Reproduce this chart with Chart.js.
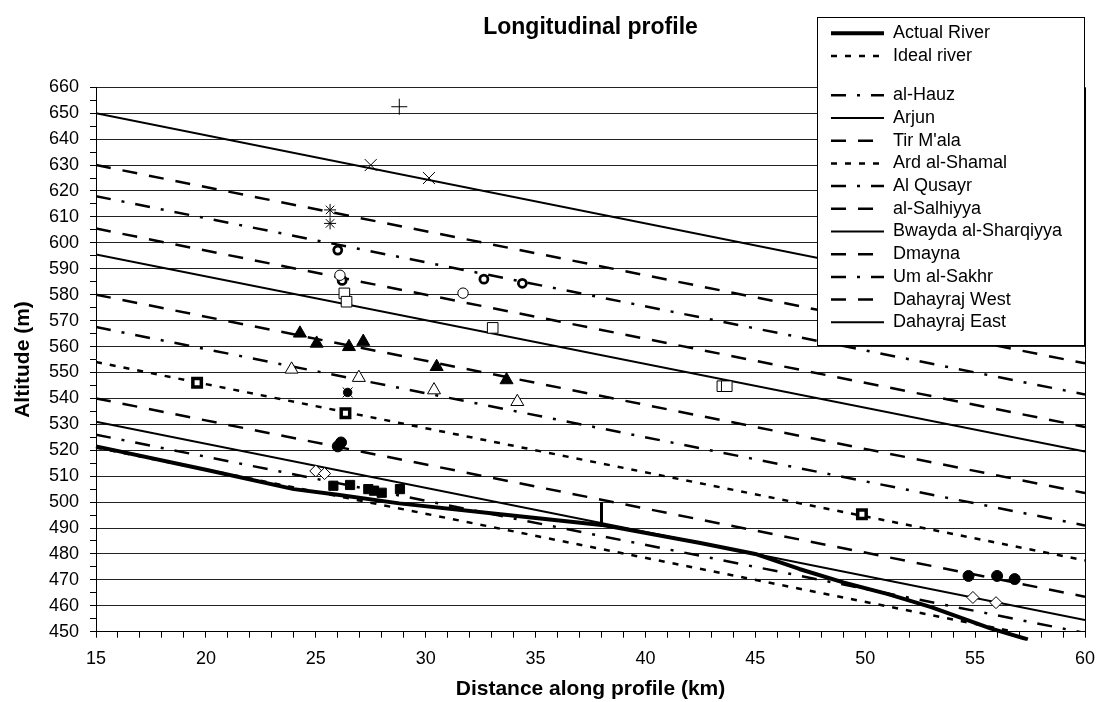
<!DOCTYPE html>
<html>
<head>
<meta charset="utf-8">
<script src="https://cdn.jsdelivr.net/npm/chart.js@4.4.1/dist/chart.umd.min.js"></script>
<style>
html,body{margin:0;padding:0;background:#fff;}
#wrap{width:1097px;height:702px;position:relative;}
</style>
</head>
<body>
<div id="wrap"><canvas id="c"></canvas></div>
<script>
// ---------------- DATA ----------------
const chartTitle = 'Longitudinal profile';
const xAxisTitle = 'Distance along profile (km)';
const yAxisTitle = 'Altitude (m)';
const xLimits = [15, 60];
const yLimits = [450, 660];

const actualRiverKm  = [15, 20, 24, 26, 28.8, 33.4, 38, 42.5, 45, 47, 49, 51, 53, 55.7, 57.4];
const actualRiverAlt = [521.5, 512.5, 505, 502.8, 499.5, 495.3, 491.2, 484.2, 480, 474.2, 469, 464.6, 459.5, 451.3, 447];
const idealRiverKm  = [15, 60];
const idealRiverAlt = [521, 444.5];

const villageNames   = ['al-Hauz', 'Arjun', "Tir M'ala", 'Ard al-Shamal', 'Al Qusayr', 'al-Salhiyya',
                        'Bwayda al-Sharqiyya', 'Dmayna', 'Um al-Sakhr', 'Dahayraj West', 'Dahayraj East'];
const villageLineKm  = [15, 60];
const villageAltAt15 = [618, 650, 630, 554, 567.5, 605.5, 595.5, 580, 526, 540, 531];
const villageAltAt60 = [541.5, 573.5, 553.5, 477.5, 491, 529, 519.5, 503.5, 449.5, 463.5, 454.5];
const villageLineType = ['dashdot', 'solid', 'dash', 'dot', 'dashdot', 'dash', 'solid', 'dash', 'dashdot', 'dash', 'solid'];

// observed points  [km, altitude]
const ptsPlus          = [[28.8, 652.5]];
const ptsCross         = [[27.5, 630], [30.15, 625]];
const ptsStar          = [[25.65, 612.7], [25.65, 607.5]];
const ptsOpenCircle    = [[26.1, 587.5], [31.7, 580.6]];
const ptsRing          = [[26.0, 597.2], [26.2, 585.5], [32.65, 586], [34.4, 584.4]];
const ptsOpenSquare    = [[26.3, 580.5], [26.4, 577.3], [33.05, 567.2], [43.5, 544.7], [43.7, 544.7]];
const ptsFilledTri     = [[24.28, 565.1], [25.04, 561.2], [26.51, 559.9], [27.16, 561.9], [30.5, 552.2], [33.68, 547.1]];
const ptsOpenTri       = [[23.9, 551.2], [26.96, 548], [30.38, 543.2], [34.17, 538.7]];
const ptsDotCross      = [[26.45, 542.3]];
const ptsDotSquare     = [[19.6, 546], [26.35, 534.3], [49.85, 495.3]];
const ptsFilledCircle  = [[26.0, 521.5], [26.15, 523], [54.7, 471.5], [56.0, 471.5], [56.8, 470.3]];
const ptsOpenDiamond   = [[25.0, 512], [25.4, 511], [54.9, 463.2], [55.95, 461.2]];
const ptsFilledSquare  = [[25.8, 506.3], [26.56, 506.6], [27.39, 505], [27.65, 504.4], [28.0, 503.6], [28.83, 505]];
const gaugeBar         = [[38, 491.5], [38, 500]];

// ---------------- STYLE ----------------
const FONT = "'Liberation Sans', Arial, Helvetica, sans-serif";
const dashPatterns = { solid: [], dash: [15, 12], dashdot: [15, 11, 3, 11], dot: [6, 8] };
const LEGEND_BOX = { left: 817, top: 17, right: 1084, bottom: 345 };

const toXY = (xs, ys) => xs.map((x, i) => ({ x: x, y: ys[i] }));
const ptsXY = (pts) => pts.map(p => ({ x: p[0], y: p[1] }));

const datasets = [];

function markerSet(label, pts, style, radius, fill, borderWidth) {
  datasets.push({
    label: label, data: ptsXY(pts), showLine: false, order: 0,
    pointStyle: style, pointRadius: radius, pointHoverRadius: radius,
    pointBackgroundColor: fill, pointBorderColor: '#000', pointBorderWidth: borderWidth
  });
}
markerSet('plus points', ptsPlus, 'cross', 8, '#000', 1);
markerSet('cross points', ptsCross, 'crossRot', 8.5, '#000', 1);
markerSet('star points', ptsStar, 'star', 6, '#000', 1);
markerSet('open circle points', ptsOpenCircle, 'circle', 5.2, '#fff', 1);
markerSet('ring points', ptsRing, 'circle', 4, '#fff', 2.8);
markerSet('open square points', ptsOpenSquare, 'rect', 7.5, '#fff', 1);
markerSet('filled triangle points', ptsFilledTri, 'triangle', 7.5, '#000', 1);
markerSet('open triangle points', ptsOpenTri, 'triangle', 7.5, '#fff', 1);
markerSet('dot cross points', ptsDotCross, 'crossRot', 7, '#000', 1);
markerSet('dot points', ptsDotCross, 'circle', 4.2, '#000', 1);
markerSet('dotted square points', ptsDotSquare, 'rect', 6, '#fff', 3.5);
markerSet('filled circle points', ptsFilledCircle, 'circle', 5.5, '#000', 1);
markerSet('open diamond points', ptsOpenDiamond, 'rectRot', 6, '#fff', 1);
markerSet('filled square points', ptsFilledSquare, 'rect', 6.5, '#000', 1);

datasets.push({
  label: 'gauge', data: ptsXY(gaugeBar), showLine: true, order: 1,
  borderColor: '#000', borderWidth: 3, pointRadius: 0, borderCapStyle: 'butt'
});

datasets.push({
  label: 'Actual River', data: toXY(actualRiverKm, actualRiverAlt), showLine: true, order: 1,
  borderColor: '#000', borderWidth: 4, pointRadius: 0, inLegend: true,
  borderJoinStyle: 'round', clip: { left: 2, top: 2, right: 2, bottom: 9 }
});
datasets.push({
  label: 'Ideal river', data: toXY(idealRiverKm, idealRiverAlt), showLine: true, order: 1,
  borderColor: '#000', borderWidth: 2.5, borderDash: dashPatterns.dot, pointRadius: 0,
  inLegend: true, legendGapAfter: true
});
villageNames.forEach((name, i) => {
  datasets.push({
    label: name,
    data: toXY(villageLineKm, [villageAltAt15[i], villageAltAt60[i]]),
    showLine: true, order: 1, borderColor: '#000',
    borderWidth: villageLineType[i] === 'solid' ? 2 : 2.5,
    borderDash: dashPatterns[villageLineType[i]], pointRadius: 0, inLegend: true
  });
});

// ---------------- LEGEND PLACEMENT ----------------
const legendPlacer = {
  id: 'legendPlacer',
  afterInit(chart) {
    const lg = chart.legend;
    if (!lg) return;
    lg._layers = () => [{
      z: 10,
      draw: (area) => {
        const ctx = chart.ctx, b = LEGEND_BOX;
        ctx.save();
        ctx.fillStyle = '#fff';
        ctx.fillRect(b.left, b.top, b.right - b.left, b.bottom - b.top);
        ctx.strokeStyle = '#000';
        ctx.lineWidth = 1;
        ctx.setLineDash([]);
        ctx.strokeRect(b.left + 0.5, b.top + 0.5, b.right - b.left, b.bottom - b.top);
        ctx.restore();
        lg.draw(area);
      }
    }];
  },
  afterLayout(chart) {
    const lg = chart.legend, b = LEGEND_BOX;
    if (!lg) return;
    lg.left = b.left + 9.3;
    lg.top = b.top + 2.6;
    lg.right = b.right;
    lg.bottom = b.bottom;
    lg.width = lg.right - lg.left;
    lg.height = lg.bottom - lg.top;
  }
};

new Chart(document.getElementById('c'), {
  type: 'scatter',
  data: { datasets: datasets },
  plugins: [legendPlacer],
  options: {
    responsive: true,
    maintainAspectRatio: false,
    animation: false,
    events: [],
    layout: { padding: { top: 10, left: 0, right: 12, bottom: 0 } },
    plugins: {
      tooltip: { enabled: false },
      title: {
        display: true, text: chartTitle, color: '#000', fullSize: false,
        font: { family: FONT, size: 23, weight: 'bold' },
        padding: { top: 4, bottom: 45.7 }
      },
      legend: {
        display: true,
        position: 'chartArea',
        align: 'start',
        labels: {
          color: '#000',
          font: { family: FONT, size: 18, lineHeight: 0.66 },
          usePointStyle: true,
          pointStyleWidth: 53,
          padding: 4.7,
          generateLabels(chart) {
            const items = [];
            chart.data.datasets.forEach((ds, i) => {
              if (!ds.inLegend) return;
              items.push({
                text: ds.label, datasetIndex: i, hidden: false,
                lineWidth: ds.borderWidth, strokeStyle: '#000', fillStyle: '#000',
                lineDash: ds.borderDash || [], lineCap: 'butt', pointStyle: 'line', fontColor: '#000'
              });
              if (ds.legendGapAfter) {
                items.push({
                  text: [''], datasetIndex: i, hidden: false, lineWidth: 0,
                  strokeStyle: 'rgba(0,0,0,0)', fillStyle: 'rgba(0,0,0,0)',
                  pointStyle: 'line', fontColor: '#000'
                });
              }
            });
            return items;
          }
        }
      }
    },
    scales: {
      x: {
        type: 'linear', position: 'bottom', min: xLimits[0], max: xLimits[1],
        afterFit(scale) { scale.height = 70.3; scale.paddingLeft = 0; scale.paddingRight = 0; },
        border: { display: true, color: '#000', width: 1 },
        grid: {
          drawOnChartArea: true, drawTicks: true, tickLength: 6, tickColor: '#000',
          color: (c) => (c.tick && c.tick.value === xLimits[1]) ? '#000' : 'rgba(0,0,0,0)'
        },
        ticks: {
          stepSize: 1, autoSkip: false, maxRotation: 0, padding: 11, color: '#000',
          font: { family: FONT, size: 18 },
          callback: (v) => (v % 5 === 0 ? String(v) : '')
        },
        title: {
          display: true, text: xAxisTitle, color: '#000',
          font: { family: FONT, size: 21, weight: 'bold' },
          padding: { top: 0, bottom: 0 }
        }
      },
      y: {
        type: 'linear', position: 'left', min: yLimits[0], max: yLimits[1],
        afterFit(scale) { scale.width = 96; },
        border: { display: true, color: '#000', width: 1 },
        grid: {
          drawTicks: true, tickLength: 6, tickColor: '#000',
          color: (c) => (c.tick && c.tick.value % 10 === 0) ? '#222' : 'rgba(0,0,0,0)'
        },
        ticks: {
          stepSize: 5, autoSkip: false, padding: 11, color: '#000',
          font: { family: FONT, size: 18 },
          callback: (v) => (v % 10 === 0 ? String(v) : '')
        },
        title: {
          display: true, text: yAxisTitle, color: '#000',
          font: { family: FONT, size: 21, weight: 'bold' },
          padding: { top: 10.4, bottom: 0 }
        }
      }
    }
  }
});
</script>
</body>
</html>
